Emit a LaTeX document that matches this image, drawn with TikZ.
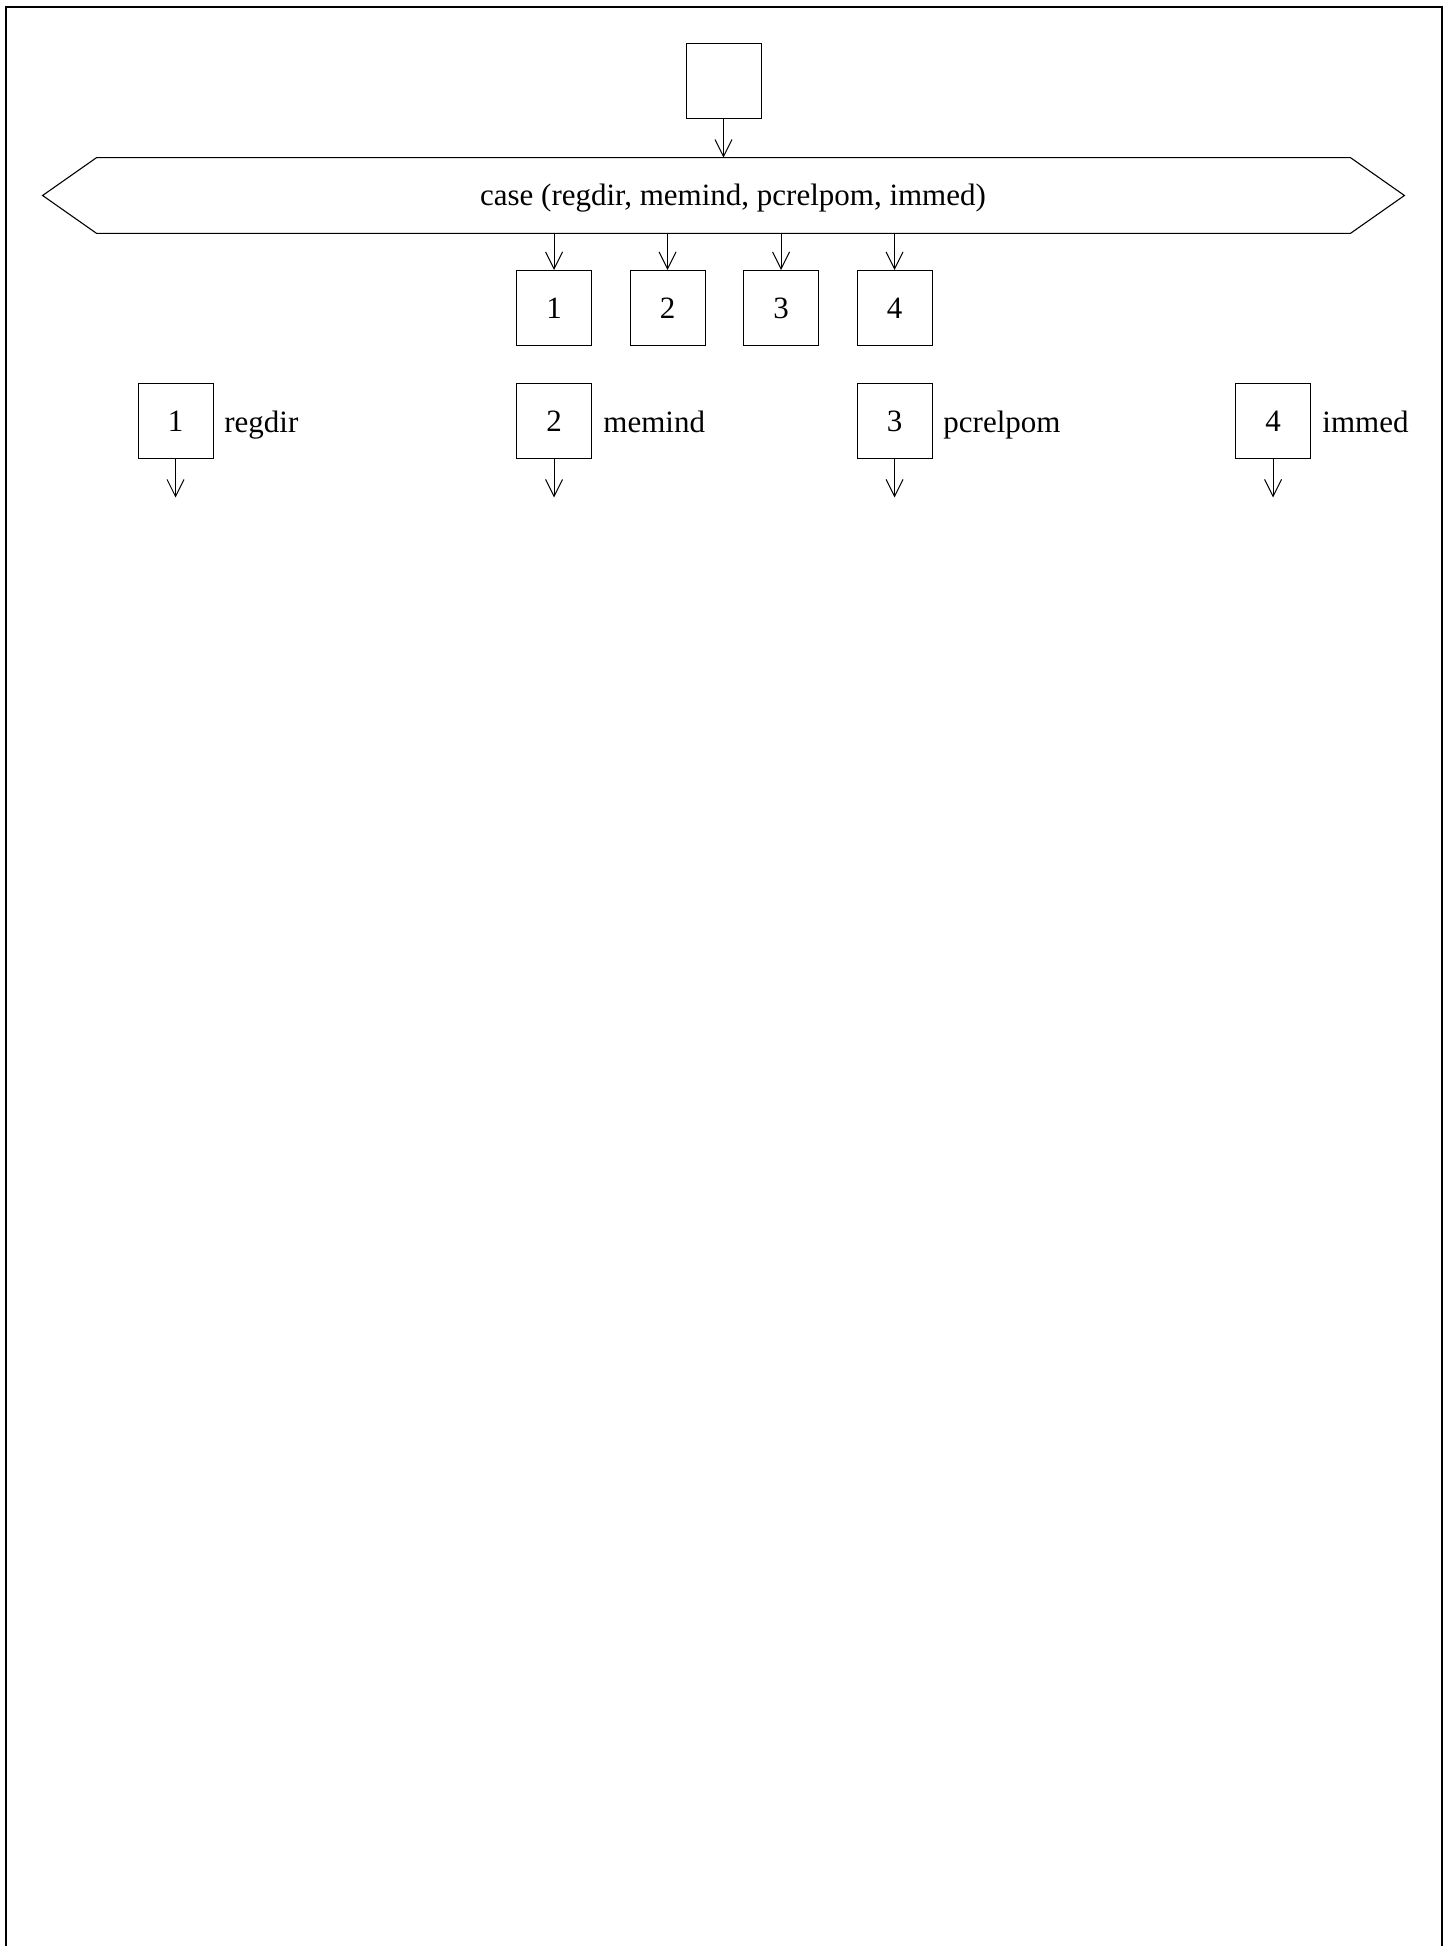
\documentclass[tikz,border=0pt]{standalone}
\usepackage{fontspec}
\setmainfont{Liberation Serif}
\usetikzlibrary{arrows.meta}
\begin{document}
\begin{tikzpicture}[x=0.5pt,y=-0.5pt,
  txt/.style={font=\fontsize{15.5}{18}\selectfont},
  box/.style={draw, line width=0.5pt, minimum width=37.5pt, minimum height=37.5pt, inner sep=0pt, text height=10.5pt, text depth=0pt, txt},
  lbl/.style={anchor=base west, inner sep=0pt, txt},
  arr/.style={-{Straight Barb[length=8.5pt,width=8.5pt]}, line width=0.5pt}]
\useasboundingbox (0,0) rectangle (1451,1946);
\clip (0,0) rectangle (1451,1946);
\draw[line width=1pt] (5.5,1960) -- (5.5,7) -- (1442,7) -- (1442,1960);
% top box
\node[box] (top) at (723.5,81.5) {};
% hexagon
\node[inner sep=0pt, minimum width=626.5pt, minimum height=37.5pt] (hex) at (723.5,195.5) {};
\draw[line width=0.55pt] (hex.north west) -- (hex.north east) -- ([xshift=27pt]hex.east) -- (hex.south east) -- (hex.south west) -- ([xshift=-27pt]hex.west) -- cycle;
\node[inner sep=0pt, anchor=base, txt] (hext) at (733,206) {case (regdir, memind, pcrelpom, immed)};
\draw[arr] (top.south) -- (hex.north);
% first row
\node[box] (a1) at (554,308) {1};
\node[box] (a2) at (667.5,308) {2};
\node[box] (a3) at (781,308) {3};
\node[box] (a4) at (894.5,308) {4};
\foreach \i in {1,2,3,4} {\draw[arr] (a\i.north |- hex.south) -- (a\i.north);}
% second row
\node[box] (b1) at (175.5,421.5) {1};
\node[box] (b2) at (554,421.5) {2};
\node[box] (b3) at (894.5,421.5) {3};
\node[box] (b4) at (1273,421.5) {4};
\node[lbl] (l1) at (224,433) {regdir};
\node[lbl] (l2) at (603,433) {memind};
\node[lbl] (l3) at (943,433) {pcrelpom};
\node[lbl] (l4) at (1322,433) {immed};
\foreach \i in {1,2,3,4} {
  \coordinate (e\i) at ([yshift=-19pt]b\i.south);
  \draw[arr] (b\i.south) -- (e\i);
}
\end{tikzpicture}
\end{document}
